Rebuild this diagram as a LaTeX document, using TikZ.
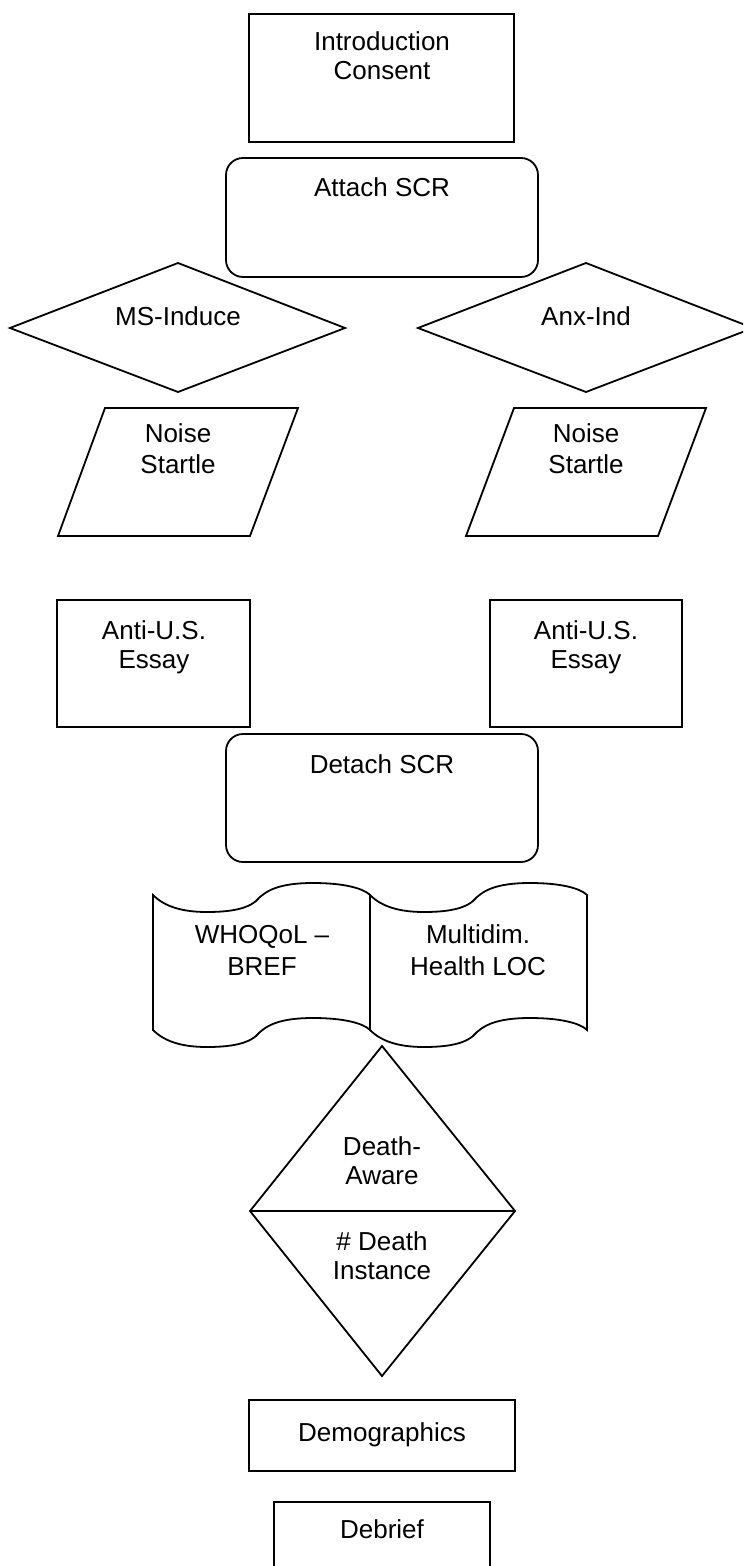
\documentclass[tikz,border=0pt]{standalone}
\usepackage{fontspec}
\setmainfont{Liberation Sans}
\begin{document}
\begin{tikzpicture}[x=0.5pt,y=-0.5pt,
  outline/.style={draw=black,line width=0.9pt,line join=miter},
  roundbox/.style={outline,rounded corners=8.5pt},
  lbl/.style={anchor=base,inner sep=0pt,font=\fontsize{13}{15}\selectfont}]
\useasboundingbox (0,0) rectangle (743,1566);
\clip (0,0) rectangle (743,1566);
% Introduction / Consent
\draw[outline] (249,14) rectangle (514,142);
\node[lbl] (intro1) at (382,51) {Introduction};
\node[lbl] (intro2) at (382,80) {Consent};
% Attach SCR
\draw[roundbox] (226,158) rectangle (538,277);
\node[lbl] (attach) at (382,197) {Attach SCR};
% diamonds
\draw[outline] (178,263) -- (345,328) -- (178,392) -- (10,328) -- cycle;
\node[lbl] (msind) at (178,326) {MS-Induce};
\draw[outline] (586,263) -- (753,328) -- (586,392) -- (418,328) -- cycle;
\node[lbl] (anxind) at (586,326) {Anx-Ind};
% parallelograms
\draw[outline] (105,408) -- (298,408) -- (250,536) -- (58,536) -- cycle;
\node[lbl] (noiseL1) at (178,443) {Noise};
\node[lbl] (noiseL2) at (178,474) {Startle};
\draw[outline] (514,408) -- (706,408) -- (658,536) -- (466,536) -- cycle;
\node[lbl] (noiseR1) at (586,443) {Noise};
\node[lbl] (noiseR2) at (586,474) {Startle};
% Anti-U.S. Essay boxes
\draw[outline] (57,600) rectangle (250,727);
\node[lbl] (antiL1) at (154,639) {Anti-U.S.};
\node[lbl] (antiL2) at (154,668) {Essay};
\draw[outline] (490,600) rectangle (682,727);
\node[lbl] (antiR1) at (586,639) {Anti-U.S.};
\node[lbl] (antiR2) at (586,668) {Essay};
% Detach SCR
\draw[roundbox] (226,734) rectangle (538,862);
\node[lbl] (detach) at (382,773) {Detach SCR};
% punched tape shapes
\foreach \sx in {153,370}{
\begin{scope}[shift={(\sx,895)}]
\draw[outline] (0,0) .. controls (12,12) and (30,17) .. (54,17)
  .. controls (80,17) and (95,13) .. (103,6)
  .. controls (112,-4) and (125,-12) .. (160,-12)
  .. controls (190,-12) and (210,-7) .. (217,0)
  -- (217,135)
  .. controls (210,128) and (190,123) .. (160,123)
  .. controls (125,123) and (112,131) .. (103,141)
  .. controls (95,148) and (80,152) .. (54,152)
  .. controls (30,152) and (12,147) .. (0,135) -- cycle;
\end{scope}}
\node[lbl] (who1) at (262,943) {WHOQoL –};
\node[lbl] (who2) at (262,975) {BREF};
\node[lbl] (mhl1) at (478,943) {Multidim.};
\node[lbl] (mhl2) at (478,975) {Health LOC};
% death diamond
\draw[outline] (382,1046) -- (515,1211) -- (382,1376) -- (250,1211) -- cycle;
\draw[outline] (250,1211) -- (515,1211);
\node[lbl] (da1) at (382,1155) {Death-};
\node[lbl] (da2) at (382,1184) {Aware};
\node[lbl] (di1) at (382,1250) {\# Death};
\node[lbl] (di2) at (382,1279) {Instance};
% Demographics
\draw[outline] (249,1400) rectangle (515,1471);
\node[lbl] (demo) at (382,1441) {Demographics};
% Debrief
\draw[outline] (274,1590) -- (274,1502) -- (490,1502) -- (490,1590);
\node[lbl] (debrief) at (382,1538) {Debrief};
\end{tikzpicture}
\end{document}
